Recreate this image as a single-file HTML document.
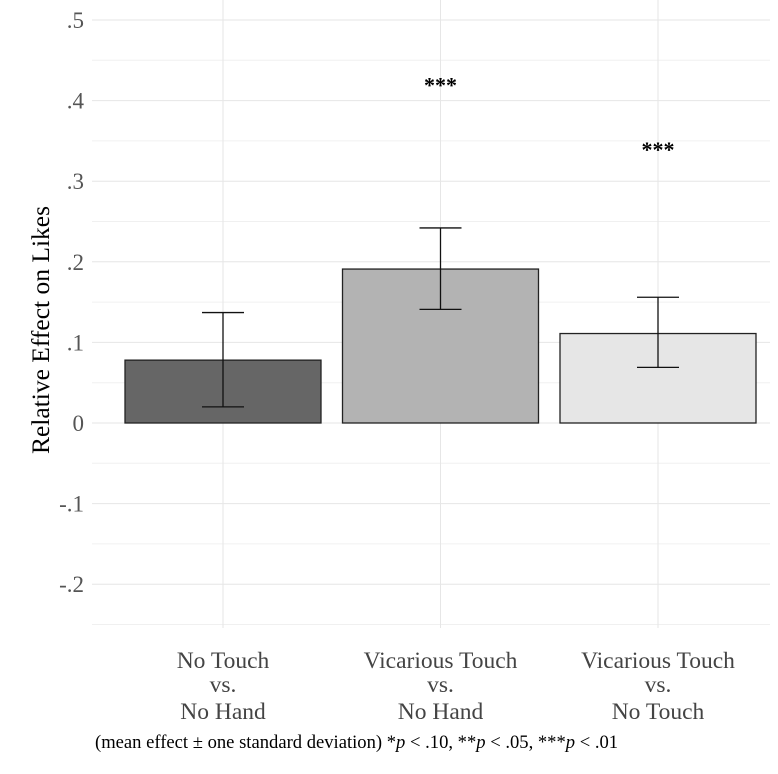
<!DOCTYPE html>
<html><head><meta charset="utf-8"><style>
body{margin:0;background:#fff}
svg{display:block;font-family:"Liberation Serif",serif}
</style></head><body>
<svg id="c" width="778" height="774"></svg>
<script>
const categories=[["No Touch","vs.","No Hand"],["Vicarious Touch","vs.","No Hand"],["Vicarious Touch","vs.","No Touch"]];
const values=[0.078,0.191,0.111];
const errLow=[0.020,0.141,0.069];
const errHigh=[0.137,0.242,0.156];
const stars=["","***","***"];
const starPos=[0,0.425,0.345];
const fills=["#666666","#b3b3b3","#e6e6e6"];
const yTicks=[0.5,0.4,0.3,0.2,0.1,0,-0.1,-0.2];
const yTickLabels=[".5",".4",".3",".2",".1","0","-.1","-.2"];
const yMinor=[0.45,0.35,0.25,0.15,0.05,-0.05,-0.15,-0.25];

const NS="http://www.w3.org/2000/svg",svg=document.getElementById('c');
const y=v=>423-v*806;
const xc=i=>223+i*217.5;
const bw=197;
function mk(t,a,p){const e=document.createElementNS(NS,t);for(const k in a)e.setAttribute(k,a[k]);(p||svg).appendChild(e);return e;}
yMinor.forEach(v=>{const l=mk('line',{x1:92,x2:770,y1:y(v),y2:y(v),stroke:'#f0f0f0','stroke-width':1});

});
yTicks.forEach((v,i)=>{const l=mk('line',{x1:92,x2:770,y1:y(v),y2:y(v),stroke:'#e6e6e6','stroke-width':1});


const t=mk('text',{x:84,y:y(v)+8,'text-anchor':'end','font-size':23,fill:'#555'});t.textContent=yTickLabels[i];

});
values.forEach((v,i)=>{const l=mk('line',{x1:xc(i),x2:xc(i),y1:0,y2:628,stroke:'#e6e6e6','stroke-width':1});

});
values.forEach((v,i)=>{
const r=mk('rect',{x:xc(i)-bw/2+0.5,y:y(v),width:bw-1,height:y(0)-y(v),fill:fills[i],stroke:'#222','stroke-width':1.3});


const g=mk('g',{stroke:'#111','stroke-width':1.3});


mk('line',{x1:xc(i),x2:xc(i),y1:y(errHigh[i]),y2:y(errLow[i])},g);
mk('line',{x1:xc(i)-21,x2:xc(i)+21,y1:y(errHigh[i]),y2:y(errHigh[i])},g);
mk('line',{x1:xc(i)-21,x2:xc(i)+21,y1:y(errLow[i]),y2:y(errLow[i])},g);
if(stars[i]){const s=mk('text',{x:xc(i),y:y(starPos[i])+12,'text-anchor':'middle','font-size':22,'font-weight':'bold',fill:'#000'});s.textContent=stars[i];

}
categories[i].forEach((ln,j)=>{const t=mk('text',{x:xc(i),y:[668,692,719][j],'text-anchor':'middle','font-size':23.5,fill:'#444'});t.textContent=ln;

});
});
const yt=mk('text',{transform:'translate(49,330) rotate(-90)','text-anchor':'middle','font-size':25.5,fill:'#000'});yt.textContent='Relative Effect on Likes';


</script>
<div style="position:absolute;left:95px;top:732px;font-family:'Liberation Serif',serif;font-size:18.6px;color:#000;white-space:nowrap">(mean effect ± one standard deviation) *<i>p</i> &lt; .10, **<i>p</i> &lt; .05, ***<i>p</i> &lt; .01</div>
</body></html>
